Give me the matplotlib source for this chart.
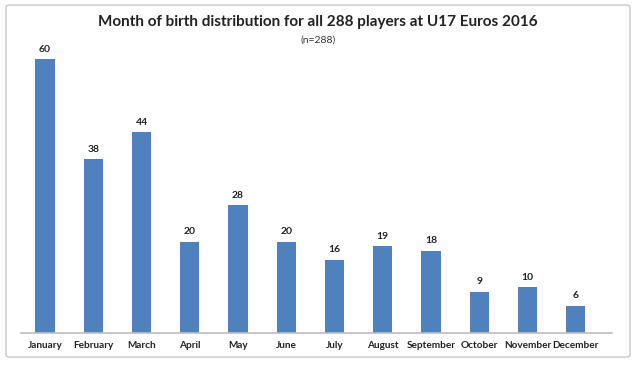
import matplotlib
matplotlib.use('Agg')
import matplotlib.pyplot as plt
from matplotlib.patches import FancyBboxPatch

plt.rcParams['font.family'] = ['Lato', 'DejaVu Sans']

months = ['January', 'February', 'March', 'April', 'May', 'June',
          'July', 'August', 'September', 'October', 'November', 'December']
counts = [60, 38, 44, 20, 28, 20, 16, 19, 18, 9, 10, 6]

W, H = 636, 369
fig = plt.figure(figsize=(W / 100, H / 100), dpi=100)

# outer frame
frame = FancyBboxPatch((6 / W, 1 - 357 / H), 624 / W, 352 / H,
                       boxstyle='round,pad=0,rounding_size=0.006',
                       transform=fig.transFigure, facecolor='none',
                       edgecolor='#c8c8c8', linewidth=1.0, zorder=0)
fig.patches.append(frame)

ax = fig.add_axes([20.9 / W, 1 - 333 / H, (612 - 20.9) / W, (333 - 31.6) / H])
ax.set_facecolor('none')
x = range(len(months))
bars = ax.bar(x, counts, width=0.4, color='#4F81BD')
for xi, v in zip(x, counts):
    ax.text(xi, v + 1.2, str(v), ha='center', va='bottom',
            fontsize=7.5, fontweight='bold', color='#222222')

ax.set_xlim(-0.5, 11.75)
ax.set_ylim(0, 66)
ax.set_xticks(list(x))
ax.set_xticklabels(months, fontsize=7.2, fontweight='bold', color='#222222')
ax.tick_params(axis='x', length=0, pad=6)
ax.set_yticks([])
for s in ['top', 'right', 'left']:
    ax.spines[s].set_visible(False)
ax.spines['bottom'].set_color('#bfbfbf')
ax.spines['bottom'].set_linewidth(1.2)

fig.text(0.5, 1 - 22 / H, 'Month of birth distribution for all 288 players at U17 Euros 2016',
         ha='center', va='center', fontsize=11, fontweight='bold', color='#222222')
fig.text(0.5, 1 - 40 / H, '(n=288)', ha='center', va='center', fontsize=7.5, color='#333333')

fig.savefig('out.png', dpi=100)
